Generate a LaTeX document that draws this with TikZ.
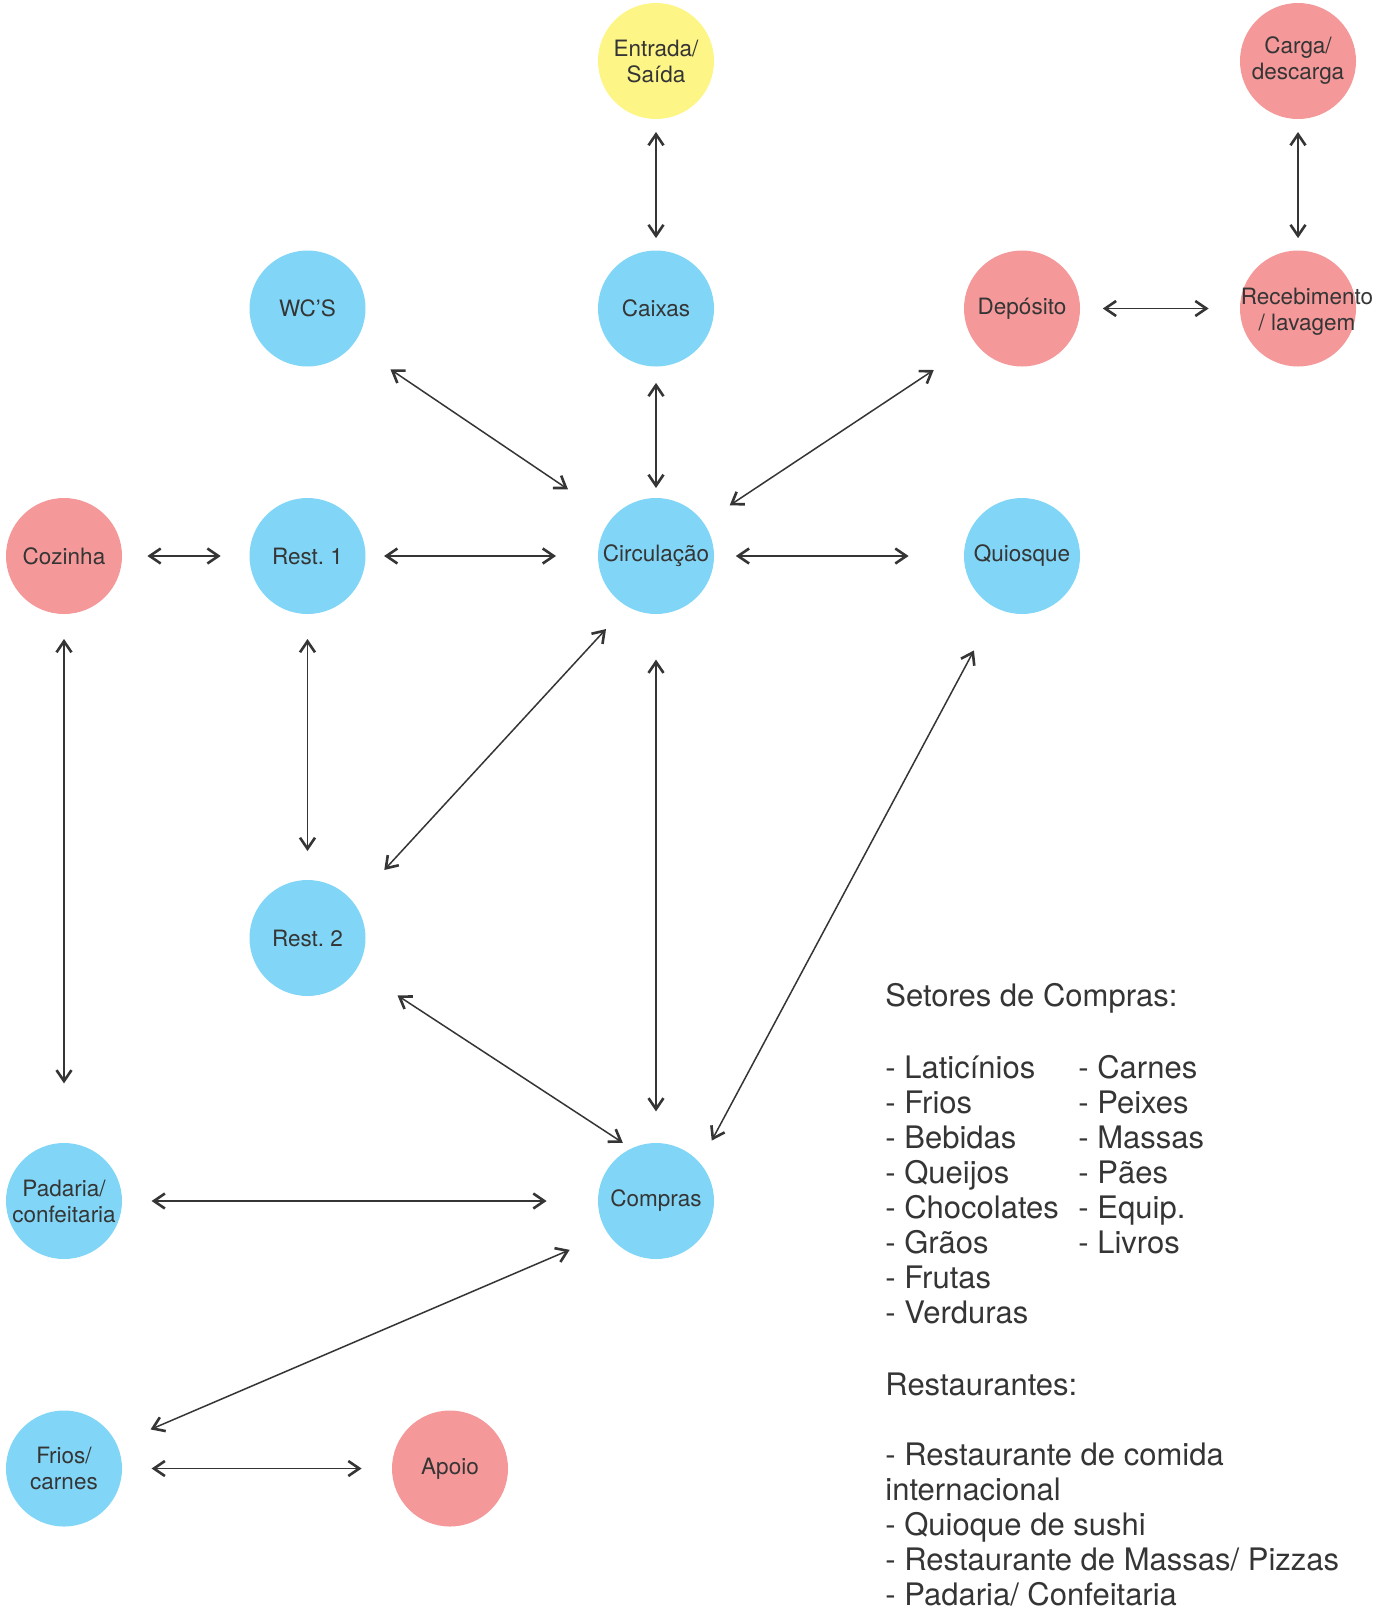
\documentclass[tikz,border=0pt]{standalone}
\usepackage{fontspec}
\setmainfont{TeX Gyre Heros}
\usetikzlibrary{arrows.meta,calc}
\definecolor{cblue}{HTML}{81D6F7}
\definecolor{cpink}{HTML}{F49899}
\definecolor{cyellow}{HTML}{FEF587}
\definecolor{ink}{HTML}{353535}
\tikzset{
  zone/.style={circle, minimum size=58pt, inner sep=0pt, outer sep=0pt, text=ink,
    font=\fontsize{11.25pt}{13pt}\selectfont, align=center},
  bluez/.style={zone, fill=cblue},
  pinkz/.style={zone, fill=cpink},
  yellowz/.style={zone, fill=cyellow},
  tlabel/.style={inner sep=0pt, text=ink, font=\fontsize{11.25pt}{13pt}\selectfont, align=center},
  barb/.tip={Straight Barb[length=5.5pt,width=7.5pt,line width=1.3pt]},
  link/.style={draw=ink, line width=0.75pt, barb-barb},
  legend/.style={anchor=base west, inner sep=0pt, text=ink, font=\fontsize{15.5pt}{18pt}\selectfont}
}
\frenchspacing
\begin{document}
\begin{tikzpicture}[x=0.5pt,y=-0.5pt]
\useasboundingbox (0,0) rectangle (1378,1612);

% zones
\node[yellowz] (entrada)  at (656,61)    {Entrada/\\Saída};
\node[pinkz]   (carga)    at (1298,61)   {Carga/\\descarga};
\node[bluez]   (wc)       at (307.5,308.5) {WC'S};
\node[bluez]   (caixas)   at (656,308.5) {Caixas};
\node[pinkz]   (deposito) at (1022,308.5) {Depósito};
\node[pinkz]   (receb)    at (1298,308.5) {};
\node[tlabel]  (recebtxt) at (1307,312)  {Recebimento\\/ lavagem};
\node[pinkz]   (cozinha)  at (64,556)    {Cozinha};
\node[bluez]   (rest1)    at (307.5,556) {Rest.\ 1};
\node[bluez]   (circ)     at (656,556)   {Circulação};
\node[bluez]   (quiosque) at (1022,556)  {Quiosque};
\node[bluez]   (rest2)    at (307.5,938) {Rest.\ 2};
\node[bluez]   (padaria)  at (64,1201)   {Padaria/\\confeitaria};
\node[bluez]   (compras)  at (656,1201)  {Compras};
\node[bluez]   (frios)    at (64,1468.5) {Frios/\\carnes};
\node[pinkz]   (apoio)    at (450,1468.5) {Apoio};

% connectors
\draw[link, shorten <=6.5pt, shorten >=6.2pt] (entrada.south) -- (caixas.north);
\draw[link, shorten <=6.5pt, shorten >=6.2pt] (carga.south) -- (receb.north);
\draw[link, shorten <=11.4pt, shorten >=15.7pt] (deposito.east) -- (receb.west);
\draw[link, shorten <=22.5pt, shorten >=26.3pt] (wc.-38.5) -- (circ.140.8);
\draw[link, shorten <=8.2pt, shorten >=5pt] (caixas.south) -- (circ.north);
\draw[link, shorten <=24.8pt, shorten >=15.7pt] (deposito.216.5) -- (circ.35.9);
\draw[link, shorten <=12.7pt, shorten >=14.4pt] (cozinha.east) -- (rest1.west);
\draw[link, shorten <=9.3pt, shorten >=21pt] (rest1.east) -- (circ.west);
\draw[link, shorten <=10.9pt, shorten >=27.7pt] (circ.east) -- (quiosque.west);
\draw[link, shorten <=12.5pt, shorten >=29.8pt] (cozinha.south) -- (padaria.north);
\draw[link, shorten <=12.5pt, shorten >=14.5pt] (rest1.south) -- (rest2.north);
\draw[link, shorten <=15.5pt, shorten >=22.5pt] (circ.240.9) -- (rest2.37.8);
\draw[link, shorten <=22.8pt, shorten >=15.8pt] (circ.south) -- (compras.north);
\draw[link, shorten <=24pt, shorten >=12.7pt] (quiosque.244.1) -- (compras.41.9);
\draw[link, shorten <=24.4pt, shorten >=5.2pt] (rest2.-32.7) -- (compras.115);
\draw[link, shorten <=14.8pt, shorten >=25.7pt] (padaria.east) -- (compras.west);
\draw[link, shorten <=20.8pt, shorten >=18.5pt] (compras.214.1) -- (frios.25.8);
\draw[link, shorten <=14.8pt, shorten >=15.2pt] (frios.east) -- (apoio.west);

% legend
\node[legend] (lg0)  at (885,1006.7) {Setores de Compras:};
\node[legend] (lg1)  at (885,1078) {- Laticínios};
\node[legend] (lg2)  at (885,1113) {- Frios};
\node[legend] (lg3)  at (885,1148) {- Bebidas};
\node[legend] (lg4)  at (885,1183) {- Queijos};
\node[legend] (lg5)  at (885,1218) {- Chocolates};
\node[legend] (lg6)  at (885,1253) {- Grãos};
\node[legend] (lg7)  at (885,1288) {- Frutas};
\node[legend] (lg8)  at (885,1323) {- Verduras};
\node[legend] (lr1)  at (1078,1078) {- Carnes};
\node[legend] (lr2)  at (1078,1113) {- Peixes};
\node[legend] (lr3)  at (1078,1148) {- Massas};
\node[legend] (lr4)  at (1078,1183) {- Pães};
\node[legend] (lr5)  at (1078,1218) {- Equip.};
\node[legend] (lr6)  at (1078,1253) {- Livros};
\node[legend] (rs0)  at (885,1395) {Restaurantes:};
\node[legend] (rs1)  at (885,1465) {- Restaurante de comida};
\node[legend] (rs2)  at (885,1500) {internacional};
\node[legend] (rs3)  at (885,1535) {- Quioque de sushi};
\node[legend] (rs4)  at (885,1570) {- Restaurante de Massas/ Pizzas};
\node[legend] (rs5)  at (885,1605) {- Padaria/ Confeitaria};
\end{tikzpicture}
\end{document}
